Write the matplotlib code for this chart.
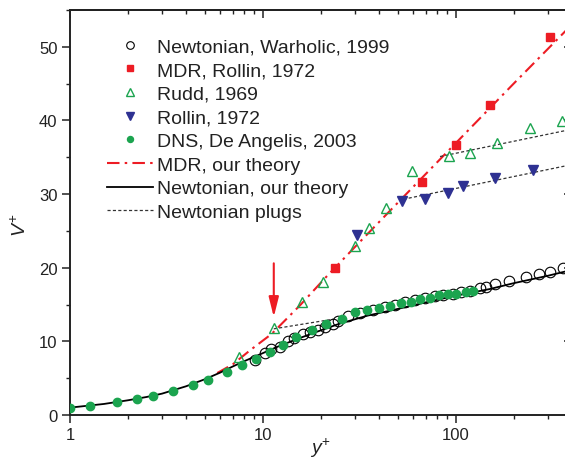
import matplotlib
matplotlib.use("Agg")
import matplotlib.pyplot as plt
from matplotlib.ticker import LogLocator, MultipleLocator, FixedLocator, NullFormatter

plt.rcParams['font.family'] = ['Liberation Sans', 'DejaVu Sans']
plt.rcParams['mathtext.fontset'] = 'custom'
plt.rcParams['mathtext.rm'] = 'Liberation Sans'
plt.rcParams['mathtext.it'] = 'Liberation Sans:italic'

# ---- data ----
warholic_x = [9.1, 10.3, 11.0, 12.3, 13.5, 14.6, 16.2, 17.6, 19.4, 21.0, 23.2, 24.6, 27.6,
              32.0, 37.4, 43.0, 48.5, 54.6, 61.6, 69.4, 78.0, 86.0, 97.0, 107, 119, 134,
              144, 160, 190, 233, 272, 307, 360]
warholic_y = [7.5, 8.4, 8.9, 9.3, 10.0, 10.4, 11.0, 11.25, 11.6, 12.0, 12.3, 12.75, 13.4,
              13.9, 14.2, 14.6, 15.0, 15.35, 15.6, 15.85, 16.15, 16.3, 16.5, 16.7, 16.85, 17.2,
              17.45, 17.75, 18.2, 18.8, 19.1, 19.4, 20.0]

mdr_rollin_x = [23.7, 66.7, 101, 150.7, 309]
mdr_rollin_y = [20.0, 31.6, 36.7, 42.1, 51.3]

rudd_x = [7.55, 11.4, 15.9, 20.6, 30.1, 35.7, 43.4, 59.7, 92.7, 118.8, 163, 243, 355]
rudd_y = [7.9, 11.75, 15.4, 18.1, 22.9, 25.4, 28.1, 33.2, 35.2, 35.6, 36.9, 39.0, 39.9]

rollin_x = [30.7, 52.5, 69.4, 91, 109.7, 160, 253]
rollin_y = [24.5, 29.0, 29.4, 30.2, 31.1, 32.2, 33.3]

dns_x = [1.0, 1.27, 1.75, 2.22, 2.68, 3.44, 4.33, 5.21, 6.5, 7.77, 9.2, 10.9, 12.7, 14.9,
         17.9, 21.3, 25.6, 30.0, 34.6, 40.0, 45.7, 51.9, 58.5, 65.3, 73.7, 82.3, 91.7, 101,
         113, 123]
dns_y = [0.95, 1.25, 1.7, 2.15, 2.6, 3.3, 4.05, 4.75, 5.85, 6.8, 7.65, 8.6, 9.55, 10.55,
         11.6, 12.3, 13.05, 14.0, 14.2, 14.5, 14.8, 15.2, 15.4, 15.7, 15.95, 16.25, 16.4, 16.5,
         16.75, 16.85]

mdr_theory_x = [5.8, 7.0, 8.6, 11.1, 15.6, 21.4, 30, 50, 100, 200, 400]
mdr_theory_y = [5.7, 6.9, 8.8, 11.0, 14.9, 18.8, 22.8, 28.8, 36.9, 45.0, 53.0]

newt_theory_x = [1, 1.5, 2, 2.5, 3, 4, 5, 6, 7, 8, 10, 12, 15, 20, 25, 35, 50, 70, 100,
                 150, 200, 300, 400]
newt_theory_y = [1.0, 1.5, 2.0, 2.45, 2.9, 3.9, 4.85, 5.75, 6.6, 7.3, 8.4, 9.3, 10.3, 11.5,
                 12.4, 13.5, 14.4, 15.3, 16.2, 17.1, 17.9, 18.9, 19.7]

plug1_x = [11.4, 23.0]
plug1_y = [11.7, 13.0]
plug2_x = [83, 400]
plug2_y = [35.1, 38.8]
plug3_x = [53.6, 400]
plug3_y = [29.3, 34.0]

arrow_x = 11.4
arrow_from = 20.6
arrow_to = 13.3

labels = ["Newtonian, Warholic, 1999", "MDR, Rollin, 1972", "Rudd, 1969", "Rollin, 1972",
          "DNS, De Angelis, 2003", "MDR, our theory", "Newtonian, our theory", "Newtonian plugs"]

RED = '#ED1C24'
GREEN = '#1BA44F'
BLUE = '#2E3192'
INK = '#222222'

W, H = 565, 460
fig = plt.figure(figsize=(W / 100, H / 100), dpi=100)
AXL, AXR, AXT, AXB = 70, 571.7, 11, 416
ax = fig.add_axes([AXL / W, (H - AXB) / H, (AXR - AXL) / W, (AXB - AXT) / H])

h_w, = ax.plot(warholic_x, warholic_y, 'o', ms=7.6, mfc='none', mec='black', mew=0.8, zorder=3)
h_mdr, = ax.plot(mdr_rollin_x, mdr_rollin_y, 's', ms=6.2, color=RED, mec=RED, zorder=4)
h_rudd, = ax.plot(rudd_x, rudd_y, '^', ms=7.5, mfc='none', mec=GREEN, mew=1.0, zorder=4)
h_rol, = ax.plot(rollin_x, rollin_y, 'v', ms=7.5, color=BLUE, mec=BLUE, zorder=4)
h_dns, = ax.plot(dns_x, dns_y, 'o', ms=6.0, color=GREEN, mec=GREEN, zorder=3)
h_mt, = ax.plot(mdr_theory_x, mdr_theory_y, '-.', color=RED, lw=1.5, zorder=2)
h_mt.set_dashes((6, 2.5, 1.2, 2.5))
h_nt, = ax.plot(newt_theory_x, newt_theory_y, '-', color='black', lw=1.3, zorder=2)
h_p, = ax.plot(plug1_x, plug1_y, '--', color='#333333', lw=0.9, zorder=2)
h_p.set_dashes((2.5, 1.8))
for px, py in [(plug2_x, plug2_y), (plug3_x, plug3_y)]:
    l, = ax.plot(px, py, '--', color='#333333', lw=0.9, zorder=2)
    l.set_dashes((2.5, 1.8))

ax.annotate('', xy=(arrow_x, arrow_to), xytext=(arrow_x, arrow_from),
            arrowprops=dict(arrowstyle='-|>,head_length=1.0,head_width=0.25',
                            color=RED, lw=1.5, mutation_scale=12, shrinkA=0, shrinkB=0))

ax.set_xscale('log')
ax.set_xlim(1, 400)
ax.set_ylim(0, 55)

ax.xaxis.set_major_locator(FixedLocator([1, 10, 100]))
ax.xaxis.set_major_formatter(matplotlib.ticker.FixedFormatter(['1', '10', '100']))
ax.xaxis.set_minor_locator(LogLocator(base=10, subs=range(2, 10), numticks=20))
ax.xaxis.set_minor_formatter(NullFormatter())
ax.yaxis.set_major_locator(MultipleLocator(10))
ax.yaxis.set_minor_locator(MultipleLocator(5))

ax.tick_params(which='major', direction='out', length=6, width=1.1, labelsize=12,
               top=False, right=False, pad=3, colors=INK)
ax.tick_params(which='minor', direction='out', length=3.2, width=1.0, top=False, right=False,
               colors=INK)

for s in ax.spines.values():
    s.set_linewidth(1.4)
    s.set_color(INK)

# mirrored ticks on the top and right, pointing inward
axt = ax.secondary_xaxis('top')
axt.xaxis.set_major_locator(FixedLocator([1, 10, 100]))
axt.xaxis.set_minor_locator(LogLocator(base=10, subs=range(2, 10), numticks=20))
axt.tick_params(which='major', direction='in', length=6, width=1.1,
                labeltop=False, colors=INK)
axt.tick_params(which='minor', direction='in', length=3.2, width=1.0, colors=INK)
axt.spines['top'].set_linewidth(1.4)
axt.spines['top'].set_color(INK)
axr = ax.secondary_yaxis('right')
axr.yaxis.set_major_locator(MultipleLocator(10))
axr.yaxis.set_minor_locator(MultipleLocator(5))
axr.tick_params(which='major', direction='in', length=6, width=1.1, labelright=False,
                colors=INK)
axr.tick_params(which='minor', direction='in', length=3.2, width=1.0, colors=INK)

ax.set_xlabel(r'$y^{+}$', fontsize=14, color=INK)
ax.set_ylabel(r'$V^{+}$', fontsize=14, color=INK)
ax.xaxis.set_label_coords((320 - AXL) / (AXR - AXL), -(437 - AXB) / (AXB - AXT))
ax.yaxis.set_label_coords(-(AXL - 30) / (AXR - AXL), (AXB - 225) / (AXB - AXT))

leg = ax.legend([h_w, h_mdr, h_rudd, h_rol, h_dns, h_mt, h_nt, h_p], labels,
                loc='upper left', bbox_to_anchor=(107 / W, 1 - 39 / H),
                bbox_transform=fig.transFigure, frameon=False, fontsize=14,
                handlelength=2.35, handletextpad=0.2, labelspacing=0.31,
                borderpad=0, borderaxespad=0, markerscale=0.72)
for t in leg.get_texts():
    t.set_color(INK)

fig.savefig('out.png', dpi=100)
